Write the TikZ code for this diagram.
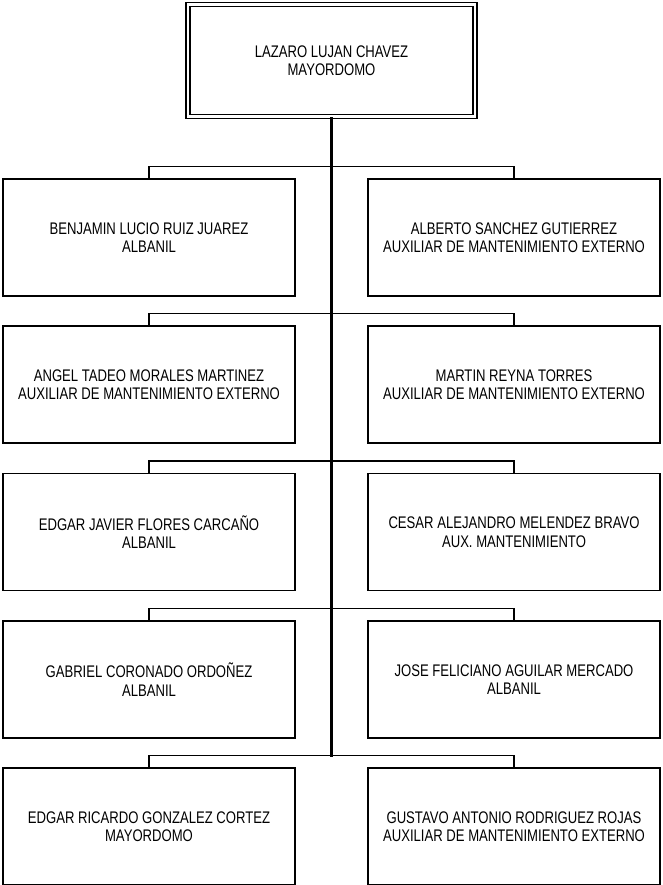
\documentclass[tikz,border=0pt]{standalone}
\usepackage{fontspec}
\setmainfont{Liberation Sans}[FakeStretch=0.78]
\begin{document}
\begin{tikzpicture}[x=1pt,y=-1pt,
  every node/.style={font=\fontsize{16.8}{18.5}\selectfont, align=center, inner sep=0pt},
  boss/.style={draw, line width=1.1pt, double, double distance=2.9pt, minimum width=287pt, minimum height=112pt},
  member/.style={draw, line width=1.2pt, minimum width=292pt, minimum height=117pt},
  link/.style={line width=1.2pt},
  trunk/.style={line width=2.4pt}]
\useasboundingbox (0,0) rectangle (662,885);
\fill[white] (0,0) rectangle (662,885);

\node[boss] (jefe) at (331.5,60.5) {LAZARO LUJAN CHAVEZ\\MAYORDOMO};

\node[member] (l1) at (149,237.5) {BENJAMIN LUCIO RUIZ JUAREZ\\ALBANIL};
\node[member] (r1) at (514,237.5) {ALBERTO SANCHEZ GUTIERREZ\\AUXILIAR DE MANTENIMIENTO EXTERNO};
\node[member] (l2) at (149,384.5) {ANGEL TADEO MORALES MARTINEZ\\AUXILIAR DE MANTENIMIENTO EXTERNO};
\node[member] (r2) at (514,384.5) {MARTIN REYNA TORRES\\AUXILIAR DE MANTENIMIENTO EXTERNO};
\node[member] (l3) at (149,532) {EDGAR JAVIER FLORES CARCAÑO\\ALBANIL};
\node[member] (r3) at (514,532) {CESAR ALEJANDRO MELENDEZ BRAVO\\AUX. MANTENIMIENTO};
\node[member] (l4) at (149,679.5) {GABRIEL CORONADO ORDOÑEZ\\ALBANIL};
\node[member] (r4) at (514,679.5) {JOSE FELICIANO AGUILAR MERCADO\\ALBANIL};
\node[member] (l5) at (149,826.5) {EDGAR RICARDO GONZALEZ CORTEZ\\MAYORDOMO};
\node[member] (r5) at (514,826.5) {GUSTAVO ANTONIO RODRIGUEZ ROJAS\\AUXILIAR DE MANTENIMIENTO EXTERNO};

\coordinate (fin) at (331.5,757);

\foreach \k in {1,...,5}{
  \draw[link] (l\k.north) -- ++(0,-12) -| (r\k.north);
}
\draw[trunk] (jefe.south) -- (fin);
\end{tikzpicture}
\end{document}
